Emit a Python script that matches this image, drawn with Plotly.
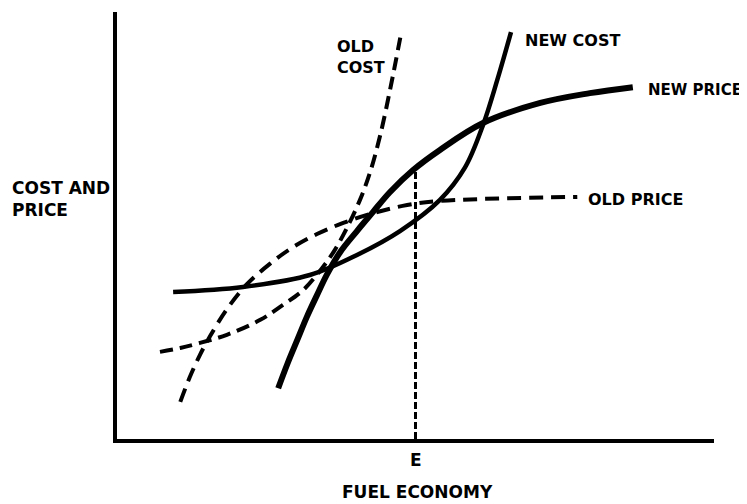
import numpy as np
import plotly.graph_objects as go

# Fuel economy (x) and cost/price (y), arbitrary units 0-100
old_cost_x = [7.2, 10.6, 13.9, 18.4, 24.0, 27.8, 31.2, 34.5, 36.5, 38.5, 40.7, 42.4, 44.1, 45.9, 47.6]
old_cost_y = [20.4, 21.3, 22.5, 24.4, 27.9, 31.4, 34.9, 40.3, 44.3, 49.4, 56.0, 62.5, 71.2, 82.9, 95.1]

old_price_x = [10.6, 12.2, 13.9, 15.6, 18.4, 21.8, 25.6, 29.0, 33.5, 37.9, 42.9, 48.6, 53.6, 60.8, 77.1]
old_price_y = [8.7, 14.5, 19.7, 24.1, 30.4, 36.3, 41.0, 44.5, 48.0, 50.6, 52.9, 54.8, 55.7, 56.2, 56.7]

new_cost_x = [9.4, 21.1, 32.3, 40.2, 47.4, 54.1, 58.3, 61.3, 63.7, 66.0]
new_cost_y = [34.4, 35.6, 38.4, 43.1, 48.7, 56.0, 63.6, 73.5, 84.1, 95.3]

new_price_x = [27.0, 28.6, 30.2, 31.8, 33.5, 35.2, 37.4, 40.2, 42.9, 45.7, 49.6, 54.1, 61.3, 70.9, 79.2, 86.4]
new_price_y = [11.9, 17.8, 23.2, 28.6, 33.7, 38.6, 43.8, 48.7, 53.2, 57.8, 63.0, 67.7, 74.0, 78.7, 81.0, 82.4]

E_value = 50.0
E_top = float(np.interp(E_value, new_price_x, new_price_y))

x_tick_labels = ["E"]
x_title = "FUEL ECONOMY"
y_title = "COST AND<br>PRICE"

fig = go.Figure()

fig.add_trace(go.Scatter(x=old_cost_x, y=old_cost_y, mode="lines", name="OLD COST",
                         line=dict(color="black", width=4, dash="13px,7px", shape="spline"),
                         cliponaxis=False))
fig.add_trace(go.Scatter(x=old_price_x, y=old_price_y, mode="lines", name="OLD PRICE",
                         line=dict(color="black", width=4, dash="14px,8px", shape="spline"),
                         cliponaxis=False))
fig.add_trace(go.Scatter(x=new_cost_x, y=new_cost_y, mode="lines", name="NEW COST",
                         line=dict(color="black", width=4.5, shape="spline"),
                         cliponaxis=False))
fig.add_trace(go.Scatter(x=new_price_x, y=new_price_y, mode="lines", name="NEW PRICE",
                         line=dict(color="black", width=6, shape="spline"),
                         cliponaxis=False))
fig.add_trace(go.Scatter(x=[E_value, E_value], y=[0, E_top], mode="lines", name="E",
                         line=dict(color="black", width=3, dash="7px,3px"),
                         cliponaxis=False))

bold = dict(family="DejaVu Sans", color="black", weight="bold")

def label(text, x, y, size=16, xref="x", yref="y", xanchor="left", align="left"):
    fig.add_annotation(text=text, x=x, y=y, xref=xref, yref=yref, showarrow=False,
                       xanchor=xanchor, yanchor="middle", align=align,
                       font=dict(size=size, **bold))

label("OLD<br>COST", old_cost_x[-1] - 11.1, 89.5)
label("NEW COST", new_cost_x[-1] + 2.0, 93.4)
label("NEW PRICE", new_price_x[-1] + 2.2, 81.8, size=15)
label("OLD PRICE", old_price_x[-1] + 1.5, 56.0)
label(y_title, -0.179, 56.2, size=17, xref="paper")
label(x_tick_labels[0], E_value, -0.049, size=17, yref="paper", xanchor="center", align="center")
label(x_title, 50.3, -0.124, size=17, yref="paper", xanchor="center", align="center")

# the page body has an 8px margin, so the figure is 8px smaller and margins shifted
fig.update_layout(
    width=739, height=496,
    margin=dict(l=109, r=33, t=4, b=65),
    paper_bgcolor="white", plot_bgcolor="white",
    showlegend=False,
    xaxis=dict(range=[0, 100], showline=True, linecolor="black", linewidth=3.5,
               showgrid=False, zeroline=False, showticklabels=False, ticks=""),
    yaxis=dict(range=[0, 100], showline=True, linecolor="black", linewidth=3.5,
               showgrid=False, zeroline=False, showticklabels=False, ticks=""),
)

fig.write_html("out.html")
